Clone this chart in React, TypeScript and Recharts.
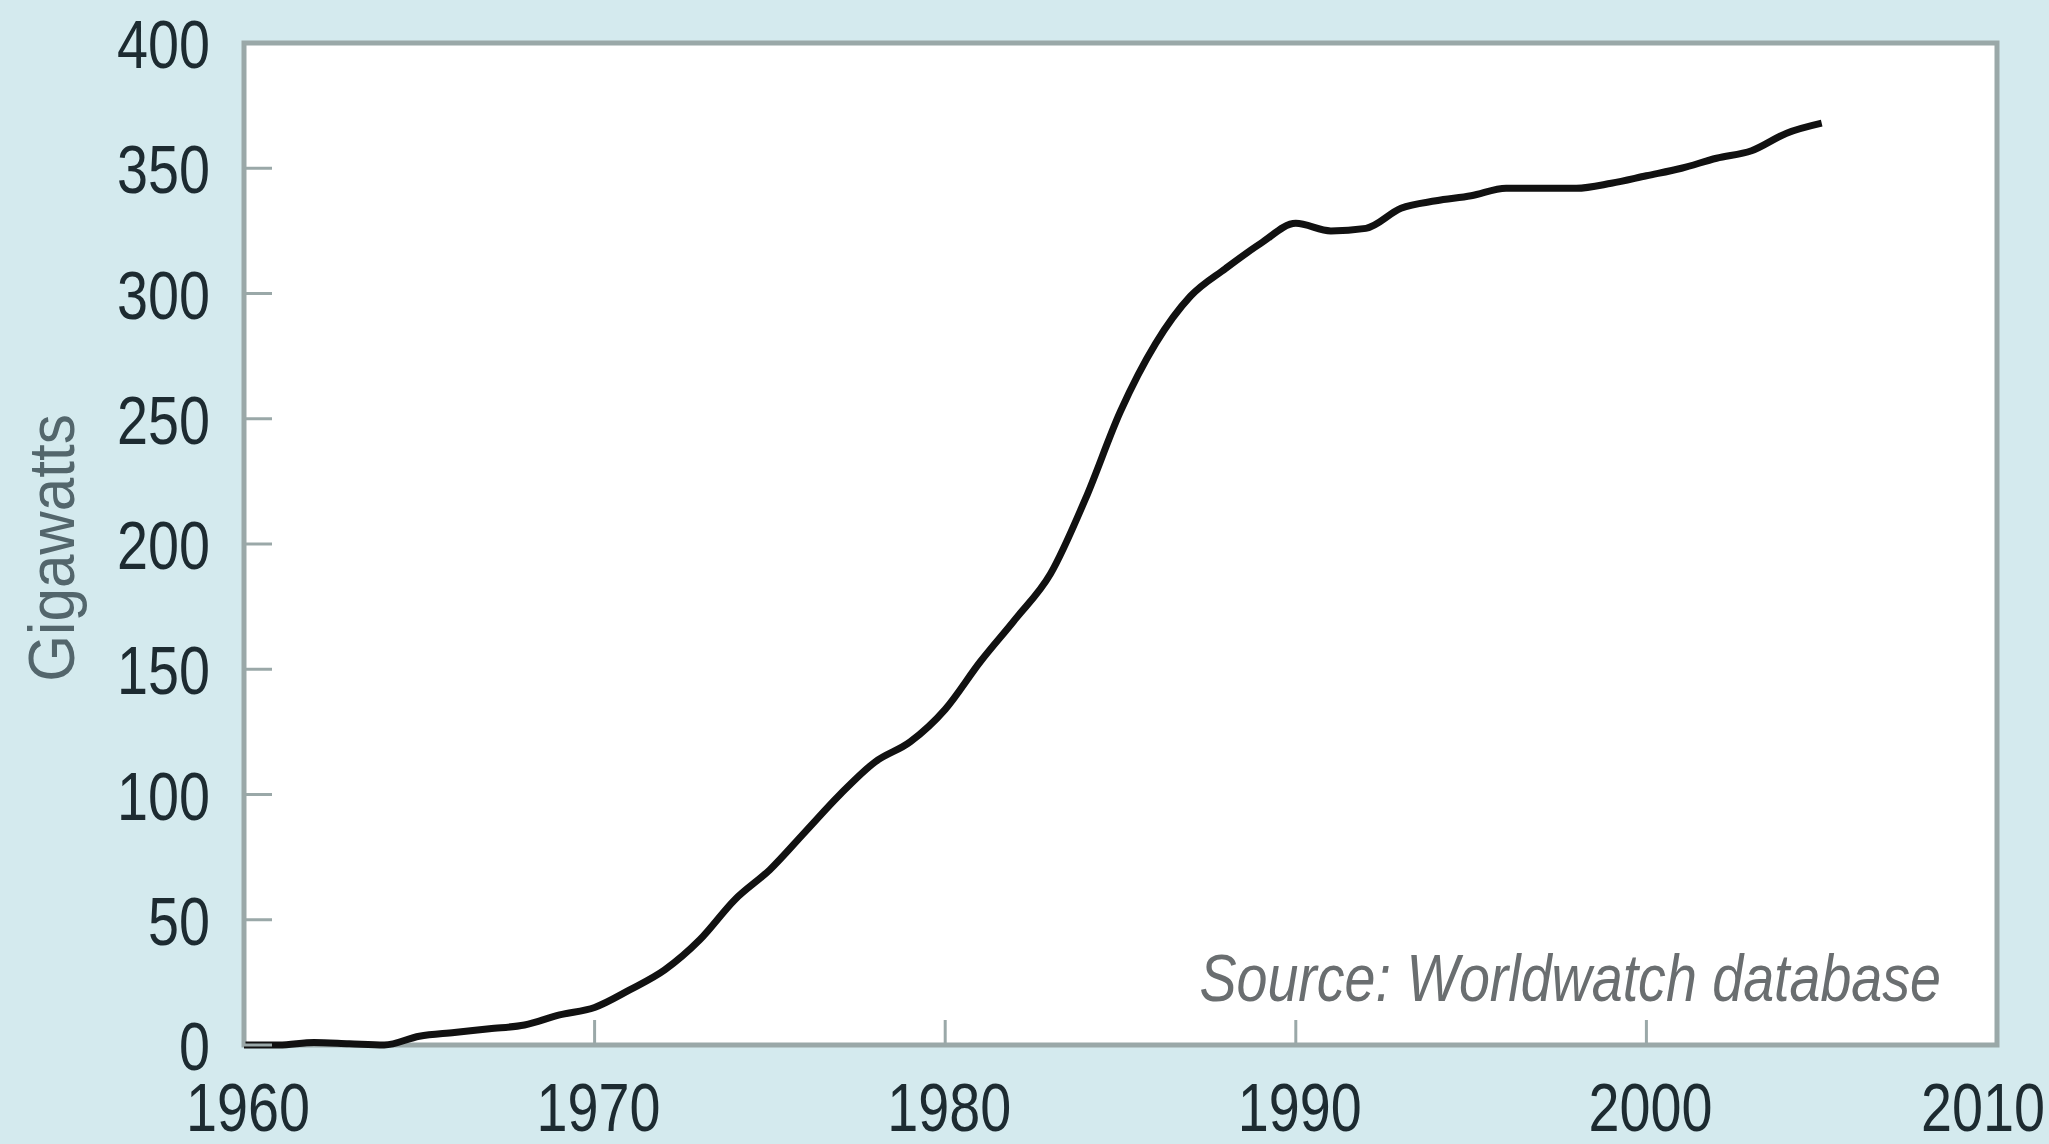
import React from 'react'
import { LineChart, Line, XAxis, YAxis, CartesianGrid, ReferenceArea } from 'recharts'

const years = [
  1960, 1961, 1962, 1963, 1964, 1965, 1966, 1967, 1968, 1969,
  1970, 1971, 1972, 1973, 1974, 1975, 1976, 1977, 1978, 1979,
  1980, 1981, 1982, 1983, 1984, 1985, 1986, 1987, 1988, 1989,
  1990, 1991, 1992, 1993, 1994, 1995, 1996, 1997, 1998, 1999,
  2000, 2001, 2002, 2003, 2004, 2005,
]
const gigawatts = [
  0, 0, 1, 0.5, 0, 3.5, 5, 6.5, 8, 12,
  15, 22, 30, 42, 58, 70, 85, 100, 113, 121,
  134, 153, 170, 188, 218, 253, 280, 299, 310, 320,
  328, 325, 326, 334, 337, 339, 342, 342, 342, 344,
  347, 350, 354, 357, 364, 368,
]
const xTicks = [1960, 1970, 1980, 1990, 2000, 2010]
const yTicks = [0, 50, 100, 150, 200, 250, 300, 350, 400]
const yLabel = 'Gigawatts'
const source = 'Source: Worldwatch database'

const data = years.map((year, i) => ({ year, value: gigawatts[i] }))

const FONT = '"Liberation Sans", Arial, sans-serif'
const INK = '#1d2b31'
const FRAME = '#9aa8a8'
// the original uses a condensed face, so squeeze the regular one
const NARROW = 0.82

const YTick = (props: any) => {
  const { x, y, payload } = props
  return (
    <g>
      <line x1={x} y1={y} x2={x + 28} y2={y} stroke={FRAME} strokeWidth={3} />
      <text
        transform={`translate(${x - 34} ${y + 25}) scale(${NARROW} 1)`}
        textAnchor="end"
        fontFamily={FONT}
        fontSize={68}
        fill={INK}
      >
        {payload.value}
      </text>
    </g>
  )
}

const XTick = (props: any) => {
  const { x, y, payload, index, visibleTicksCount } = props
  const last = index === visibleTicksCount - 1
  return (
    <g>
      <line x1={x} y1={y} x2={x} y2={y - 25} stroke={FRAME} strokeWidth={3} />
      <text
        transform={`translate(${last ? x + 48 : x + 4} ${y + 86}) scale(${NARROW} 1)`}
        textAnchor={last ? 'end' : 'middle'}
        fontFamily={FONT}
        fontSize={68}
        fill={INK}
      >
        {payload.value}
      </text>
    </g>
  )
}

const App = () => {
  return (
    <div style={{ position: 'absolute', left: 0, top: 0, width: 2049, height: 1144, background: '#d4eaee' }}>
      <LineChart width={2049} height={1144} data={data} margin={{ top: 43, right: 52, bottom: 0, left: 4 }}>
        <CartesianGrid horizontal={false} vertical={false} fill="#ffffff" />
        <XAxis
          type="number"
          dataKey="year"
          domain={[1960, 2010]}
          ticks={xTicks}
          height={99}
          axisLine={false}
          tickLine={false}
          tickSize={0}
          tickMargin={0}
          tick={<XTick />}
          interval={0}
          label={(p: any) => {
            const vb = p.viewBox
            return (
              <text
                transform={`translate(${vb.x + vb.width - 56} ${vb.y - 44}) scale(0.83 1)`}
                textAnchor="end"
                fontFamily={FONT}
                fontStyle="italic"
                fontSize={67}
                fill="#6a6e70"
              >
                {source}
              </text>
            )
          }}
        />
        <YAxis
          type="number"
          domain={[0, 400]}
          ticks={yTicks}
          width={240}
          axisLine={false}
          tickLine={false}
          tickSize={0}
          tickMargin={0}
          tick={<YTick />}
          interval={0}
          label={(p: any) => {
            const vb = p.viewBox
            const cx = vb.x + 48
            const cy = vb.y + vb.height / 2 + 4
            return (
              <text
                transform={`translate(${cx} ${cy}) rotate(-90) scale(0.94 1)`}
                textAnchor="middle"
                dominantBaseline="central"
                fontFamily={FONT}
                fontSize={64}
                fill="#53666c"
              >
                {yLabel}
              </text>
            )
          }}
        />
        <ReferenceArea x1={1960} x2={2010} y1={0} y2={400} fill="none" stroke={FRAME} strokeWidth={5} />
        <Line
          type="monotone"
          dataKey="value"
          stroke="#111111"
          strokeWidth={7}
          dot={false}
          isAnimationActive={false}
        />
      </LineChart>
    </div>
  )
}

export default App
